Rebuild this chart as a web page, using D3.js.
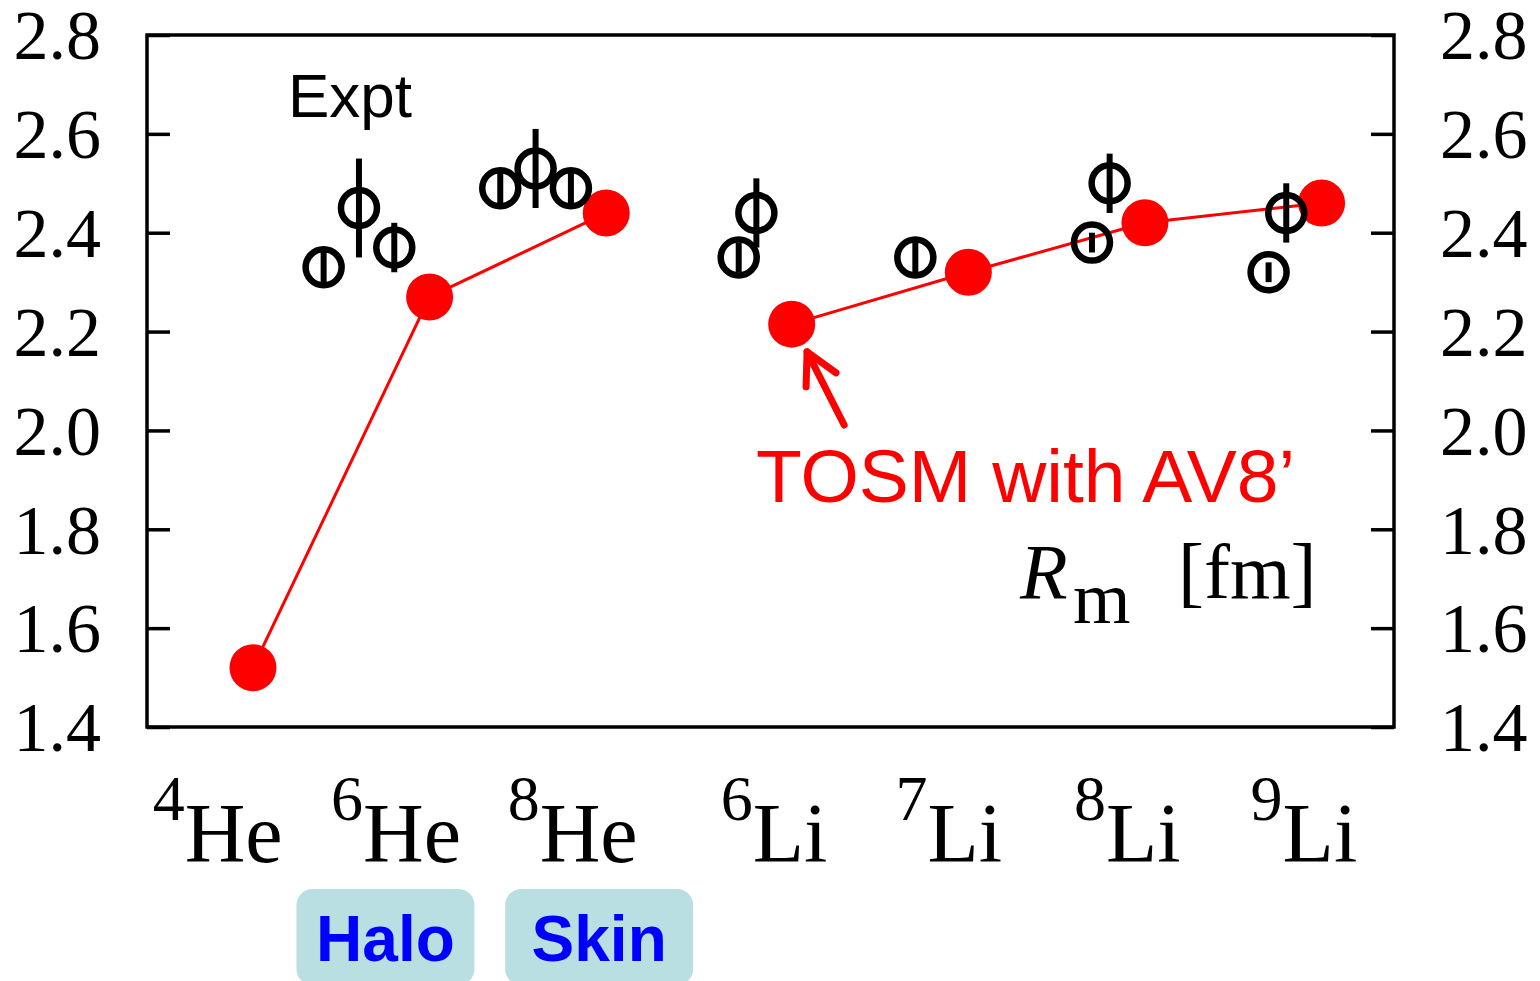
<!DOCTYPE html>
<html>
<head>
<meta charset="utf-8">
<script src="https://cdn.jsdelivr.net/npm/d3@7"></script>
<style>
  body { margin: 0; background: #fff; }
  svg { display: block; }
</style>
</head>
<body>
<svg class="rm-chart" width="1540" height="981"></svg>
<script>
// nuclei on the x axis
const masses = [4, 6, 8, 6, 7, 8, 9];
const elements = ['He', 'He', 'He', 'Li', 'Li', 'Li', 'Li'];
const labelX = [0.4, 1.41, 2.41, 3.55, 4.54, 5.55, 6.55]; // where each nucleus label sits

// TOSM with AV8' matter radii
const tosmX = [0.6, 1.6, 2.6, 3.65, 4.65, 5.65, 6.65];
const tosmR = [1.52, 2.27, 2.44, 2.215, 2.32, 2.42, 2.46];

// experimental matter radii with errors
const exptX = [1.0, 1.2, 1.4, 2.0, 2.2, 2.4, 3.35, 3.45, 4.35, 5.35, 5.45, 6.35, 6.45];
const exptR = [2.33, 2.45, 2.37, 2.49, 2.53, 2.49, 2.35, 2.44, 2.35, 2.38, 2.50, 2.32, 2.44];
const exptErr = [0.04, 0.10, 0.05, 0.04, 0.08, 0.04, 0.03, 0.07, 0.04, 0.02, 0.06, 0.02, 0.06];

const yTicks = [1.4, 1.6, 1.8, 2.0, 2.2, 2.4, 2.6, 2.8];

const svg = d3.select('.rm-chart');
const margin = { top: 35, right: 146, bottom: 254, left: 147 };
const width = 1540 - margin.left - margin.right;
const height = 981 - margin.top - margin.bottom;
const chart = svg.append('g').attr('transform', `translate(${margin.left}, ${margin.top})`);

const xScale = d3.scaleLinear().domain([0, 7.06]).range([0, width]);
const yScale = d3.scaleLinear().domain([1.4, 2.8]).range([height, 0]);

const serif = '"Liberation Serif", "Times New Roman", serif';
const sans = '"Liberation Sans", Arial, sans-serif';

// y axes, ticks pointing inward on both sides
const yAxisL = d3.axisLeft(yScale).tickValues(yTicks).tickFormat(d3.format('.1f'))
  .tickSizeInner(-23).tickSizeOuter(0).tickPadding(46);
const yAxisR = d3.axisRight(yScale).tickValues(yTicks).tickFormat(d3.format('.1f'))
  .tickSizeInner(-23).tickSizeOuter(0).tickPadding(46);

[[yAxisL, 0], [yAxisR, width]].forEach(([ax, x]) => {
  const g = chart.append('g').attr('transform', `translate(${x}, 0)`).call(ax);
  g.select('.domain').remove();
  g.selectAll('line').attr('stroke', '#000').attr('stroke-width', 3.5);
  g.selectAll('text')
    .attr('font-family', serif).attr('font-size', 70).attr('fill', '#000').attr('dy', '0.34em');
});

// frame
chart.append('rect')
  .attr('x', 0).attr('y', 0).attr('width', width).attr('height', height)
  .attr('fill', 'none').attr('stroke', '#000').attr('stroke-width', 3.5);

// nucleus labels with mass number superscripts
const labels = chart.append('g').attr('class', 'x-labels');
masses.forEach((m, i) => {
  const t = labels.append('text')
    .attr('x', xScale(labelX[i])).attr('y', 862 - margin.top)
    .attr('text-anchor', 'middle').attr('font-family', serif).attr('fill', '#000');
  t.append('tspan').attr('font-size', 64).attr('dy', -42).text(m);
  t.append('tspan').attr('font-size', 84).attr('dy', 42).text(elements[i]);
});

// TOSM lines, He and Li drawn separately
const tosm = tosmX.map((x, i) => ({ x: x, r: tosmR[i], el: elements[i] }));
const line = d3.line().x(d => xScale(d.x)).y(d => yScale(d.r));
d3.groups(tosm, d => d.el).forEach(([el, pts]) => {
  chart.append('path').datum(pts)
    .attr('d', line).attr('fill', 'none').attr('stroke', '#ff0000').attr('stroke-width', 3);
});
chart.selectAll('.tosm').data(tosm).enter().append('circle')
  .attr('class', 'tosm')
  .attr('cx', d => xScale(d.x)).attr('cy', d => yScale(d.r)).attr('r', 23.5)
  .attr('fill', '#ff0000');

// experimental points: open circles with error bars
const expt = exptX.map((x, i) => ({ x: x, r: exptR[i], e: exptErr[i] }));
const ex = chart.selectAll('.expt').data(expt).enter().append('g').attr('class', 'expt');
ex.append('circle')
  .attr('cx', d => xScale(d.x)).attr('cy', d => yScale(d.r)).attr('r', 18)
  .attr('fill', 'none').attr('stroke', '#000').attr('stroke-width', 6.5);
ex.append('line')
  .attr('x1', d => xScale(d.x)).attr('x2', d => xScale(d.x))
  .attr('y1', d => yScale(d.r - d.e)).attr('y2', d => yScale(d.r + d.e))
  .attr('stroke', '#000').attr('stroke-width', 6);

// annotations
chart.append('text')
  .attr('x', 288 - margin.left).attr('y', 117 - margin.top)
  .attr('font-family', sans).attr('font-size', 62).attr('fill', '#000')
  .text('Expt');

chart.append('text')
  .attr('x', 756 - margin.left).attr('y', 502 - margin.top)
  .attr('font-family', sans).attr('font-size', 75).attr('fill', '#ff0000')
  .text('TOSM with AV8\u2019');

// arrow pointing at 6Li TOSM point
const tip = [xScale(3.737), yScale(2.159)];
const tail = [xScale(3.947), yScale(2.011)];
chart.append('line')
  .attr('x1', tail[0]).attr('y1', tail[1]).attr('x2', tip[0]).attr('y2', tip[1])
  .attr('stroke', '#ff0000').attr('stroke-width', 7).attr('stroke-linecap', 'round');
chart.append('polyline')
  .attr('points', [[tip[0] - 1, tip[1] + 35], tip, [tip[0] + 29, tip[1] + 21]].map(p => p.join(',')).join(' '))
  .attr('fill', 'none').attr('stroke', '#ff0000').attr('stroke-width', 7)
  .attr('stroke-linecap', 'round').attr('stroke-linejoin', 'round');

// R_m [fm]
const rm = chart.append('text')
  .attr('font-family', serif).attr('fill', '#000');
rm.append('tspan').attr('x', 1020 - margin.left).attr('y', 598 - margin.top)
  .attr('font-size', 78).attr('font-style', 'italic').text('R');
rm.append('tspan').attr('x', 1073 - margin.left).attr('y', 623 - margin.top)
  .attr('font-size', 74).text('m');
rm.append('tspan').attr('x', 1178 - margin.left).attr('y', 598 - margin.top)
  .attr('font-size', 78).text('[fm]');

// Halo / Skin tags under the He isotopes
const tags = [
  { text: 'Halo', x0: 1.35, w: 178 },
  { text: 'Skin', x0: 2.56, w: 188 },
];
const tag = svg.selectAll('.tag').data(tags).enter().append('g').attr('class', 'tag');
tag.append('rect')
  .attr('x', d => margin.left + xScale(d.x0) - d.w / 2).attr('y', 889)
  .attr('width', d => d.w).attr('height', 96).attr('rx', 16)
  .attr('fill', '#b9dfe2');
tag.append('text')
  .attr('x', d => margin.left + xScale(d.x0)).attr('y', 961)
  .attr('text-anchor', 'middle').attr('font-family', sans).attr('font-weight', 'bold')
  .attr('font-size', 64).attr('fill', '#0000ff')
  .text(d => d.text);
</script>
</body>
</html>
